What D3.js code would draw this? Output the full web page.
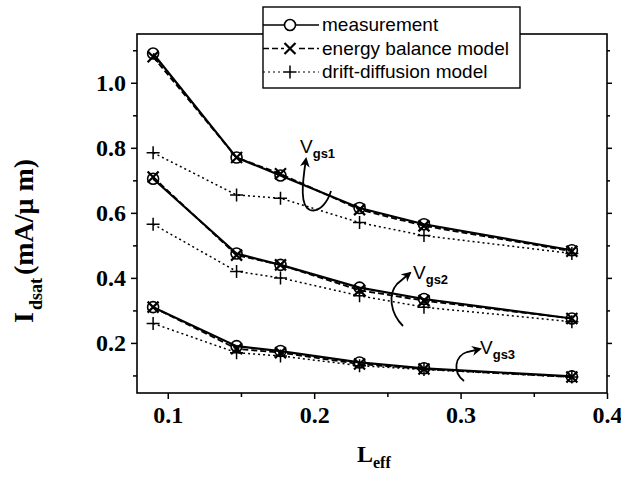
<!DOCTYPE html>
<html>
<head>
<meta charset="utf-8">
<script src="https://cdn.jsdelivr.net/npm/d3@7"></script>
<style>
  body { margin: 0; background: #fff; }
  svg { display: block; }
  .tick text { font-family: "Liberation Serif", "Times New Roman", serif; font-weight: bold; font-size: 24px; fill: #000; }
  .legend text { font-family: "Liberation Sans", Arial, sans-serif; font-size: 19px; fill: #000; }
  .note { font-family: "Liberation Sans", Arial, sans-serif; fill: #000; }
</style>
</head>
<body>
<svg></svg>
<script>
// channel length L_eff (um)
const lengths = [0.09, 0.147, 0.177, 0.231, 0.275, 0.376];

// Idsat (mA/um) for the three gate voltages Vgs1, Vgs2, Vgs3
const measured1 = [1.09, 0.77, 0.715, 0.615, 0.565, 0.485];
const measured2 = [0.705, 0.475, 0.44, 0.37, 0.335, 0.275];
const measured3 = [0.31, 0.19, 0.175, 0.14, 0.122, 0.097];

const energyBalance1 = [1.08, 0.77, 0.72, 0.61, 0.56, 0.482];
const energyBalance2 = [0.71, 0.47, 0.44, 0.362, 0.33, 0.275];
const energyBalance3 = [0.31, 0.182, 0.17, 0.135, 0.12, 0.095];

const driftDiffusion1 = [0.785, 0.655, 0.645, 0.57, 0.53, 0.475];
const driftDiffusion2 = [0.565, 0.42, 0.40, 0.345, 0.31, 0.265];
const driftDiffusion3 = [0.26, 0.17, 0.16, 0.13, 0.118, 0.095];

const xMajorTicks = [0.1, 0.2, 0.3, 0.4];
const xMinorTicks = [0.15, 0.25, 0.35];
const yMajorTicks = [0.2, 0.4, 0.6, 0.8, 1.0];
const yMinorTicks = [0.1, 0.3, 0.5, 0.7, 0.9, 1.1];

const legendNames = ["measurement", "energy balance model", "drift-diffusion model"];
const gateLabels = ["1", "2", "3"];

function drawChart() {
    const svgWidth = 621, svgHeight = 480;
    const frame = { left: 137, right: 607, top: 34, bottom: 393 };

    const svg = d3.select("svg")
        .attr("width", svgWidth)
        .attr("height", svgHeight);

    const x = d3.scaleLinear().domain([0.079, 0.4]).range([frame.left, frame.right]);
    const y = d3.scaleLinear().domain([0.046, 1.15]).range([frame.bottom, frame.top]);

    const defs = svg.append("defs");
    defs.append("marker")
        .attr("id", "head")
        .attr("viewBox", "0 0 10 10")
        .attr("refX", 8).attr("refY", 5)
        .attr("markerWidth", 10).attr("markerHeight", 10)
        .attr("markerUnits", "userSpaceOnUse")
        .attr("orient", "auto")
        .append("path")
        .attr("d", "M0,0 L10,5 L0,10 L3,5 Z")
        .attr("fill", "#000");

    // axes (ticks outward, labels bold serif)
    const fmt = d3.format(".1f");

    function axisGroup(axis, tx, ty, cls) {
        const g = svg.append("g")
            .attr("class", cls)
            .attr("transform", `translate(${tx}, ${ty})`)
            .call(axis);
        g.select(".domain").remove();
        g.selectAll("line").attr("stroke", "#000").attr("stroke-width", 1.5);
        return g;
    }

    axisGroup(d3.axisBottom(x).tickValues(xMajorTicks).tickSize(6).tickPadding(7).tickFormat(fmt), 0, frame.bottom, "x axis");
    axisGroup(d3.axisBottom(x).tickValues(xMinorTicks).tickSize(4).tickFormat(""), 0, frame.bottom, "x minor");
    axisGroup(d3.axisLeft(y).tickValues(yMajorTicks).tickSize(6).tickPadding(5).tickFormat(fmt), frame.left, 0, "y axis");
    axisGroup(d3.axisLeft(y).tickValues(yMinorTicks).tickSize(4).tickFormat(""), frame.left, 0, "y minor");
    axisGroup(d3.axisRight(y).tickValues(yMajorTicks).tickSize(5).tickFormat(""), frame.right, 0, "y right");
    axisGroup(d3.axisRight(y).tickValues(yMinorTicks).tickSize(3).tickFormat(""), frame.right, 0, "y right minor");

    // frame
    svg.append("rect")
        .attr("x", frame.left).attr("y", frame.top)
        .attr("width", frame.right - frame.left)
        .attr("height", frame.bottom - frame.top)
        .attr("fill", "none")
        .attr("stroke", "#000")
        .attr("stroke-width", 1.6);

    const line = d3.line()
        .x((d, i) => x(lengths[i]))
        .y(d => y(d));

    const styles = [
        { dash: null, width: 2.2 },
        { dash: "6,3", width: 1.8 },
        { dash: "2,3", width: 1.5 }
    ];

    function marker(g, kind, cx, cy) {
        if (kind === 0) {
            g.append("circle").attr("cx", cx).attr("cy", cy).attr("r", 5.5)
                .attr("fill", "none").attr("stroke", "#000").attr("stroke-width", 1.6);
        } else if (kind === 1) {
            const s = 5.5;
            g.append("path")
                .attr("d", `M${cx - s},${cy - s}L${cx + s},${cy + s}M${cx - s},${cy + s}L${cx + s},${cy - s}`)
                .attr("stroke", "#000").attr("stroke-width", 2.2);
        } else {
            const s = 6.5;
            g.append("path")
                .attr("d", `M${cx - s},${cy}L${cx + s},${cy}M${cx},${cy - s}L${cx},${cy + s}`)
                .attr("stroke", "#000").attr("stroke-width", 1.5);
        }
    }

    const groups = [
        [measured1, measured2, measured3],
        [energyBalance1, energyBalance2, energyBalance3],
        [driftDiffusion1, driftDiffusion2, driftDiffusion3]
    ];

    const plot = svg.append("g").attr("class", "series");
    [2, 1, 0].forEach(kind => {
        groups[kind].forEach(values => {
            plot.append("path")
                .datum(values)
                .attr("fill", "none")
                .attr("stroke", "#000")
                .attr("stroke-width", styles[kind].width)
                .attr("stroke-dasharray", styles[kind].dash)
                .attr("d", line);
            values.forEach((v, i) => marker(plot, kind, x(lengths[i]), y(v)));
        });
    });

    // Vgs annotations with curved arrows
    const notes = [
        { tx: 300, ty: 153, arrow: "M331,191 C328,201 320,213 310,210 C300,206 302,185 306,159" },
        { tx: 413, ty: 279, arrow: "M403,326 C390,313 388,294 397,284 L410,273" },
        { tx: 480, ty: 354, arrow: "M464,381 C452,372 455,356 467,352 L480,349" }
    ];
    notes.forEach((n, i) => {
        svg.append("path")
            .attr("d", n.arrow)
            .attr("fill", "none")
            .attr("stroke", "#000")
            .attr("stroke-width", 1.8)
            .attr("marker-end", "url(#head)");
        const t = svg.append("text").attr("class", "note")
            .attr("x", n.tx).attr("y", n.ty)
            .style("font-size", "19px");
        t.append("tspan").text("V");
        t.append("tspan").attr("dy", 5).style("font-size", "13px").style("font-weight", "bold")
            .text("gs" + gateLabels[i]);
    });

    // legend
    const legend = svg.append("g").attr("class", "legend");
    legend.append("rect")
        .attr("x", 263).attr("y", 7)
        .attr("width", 257).attr("height", 81)
        .attr("fill", "#fff")
        .attr("stroke", "#000")
        .attr("stroke-width", 1.4);
    legendNames.forEach((name, i) => {
        const ly = 25 + i * 23.5;
        legend.append("line")
            .attr("x1", 263).attr("x2", 319)
            .attr("y1", ly).attr("y2", ly)
            .attr("stroke", "#000")
            .attr("stroke-width", styles[i].width * 0.7)
            .attr("stroke-dasharray", styles[i].dash);
        legend.append("rect")
            .attr("x", 284).attr("y", ly - 7).attr("width", 12).attr("height", 14)
            .attr("fill", "#fff");
        marker(legend, i, 290, ly);
        legend.append("text")
            .attr("x", 322).attr("y", ly + 6)
            .text(name);
    });

    // axis titles
    const yTitle = svg.append("text")
        .attr("transform", "translate(33, 323) rotate(-90)")
        .attr("font-family", "'Liberation Serif', 'Times New Roman', serif")
        .attr("font-weight", "bold")
        .attr("font-size", "28px");
    yTitle.append("tspan").text("I");
    yTitle.append("tspan").attr("dy", 9).attr("dx", 2).attr("font-size", "18px").text("dsat");
    yTitle.append("tspan").attr("dy", -9).attr("dx", 3).text("(mA/\u03bc m)");

    const xTitle = svg.append("text")
        .attr("x", 357).attr("y", 462)
        .attr("font-family", "'Liberation Serif', 'Times New Roman', serif")
        .attr("font-weight", "bold")
        .attr("font-size", "24px");
    xTitle.append("tspan").text("L");
    xTitle.append("tspan").attr("dy", 6).attr("font-size", "16px").text("eff");
}

drawChart();
</script>
</body>
</html>
